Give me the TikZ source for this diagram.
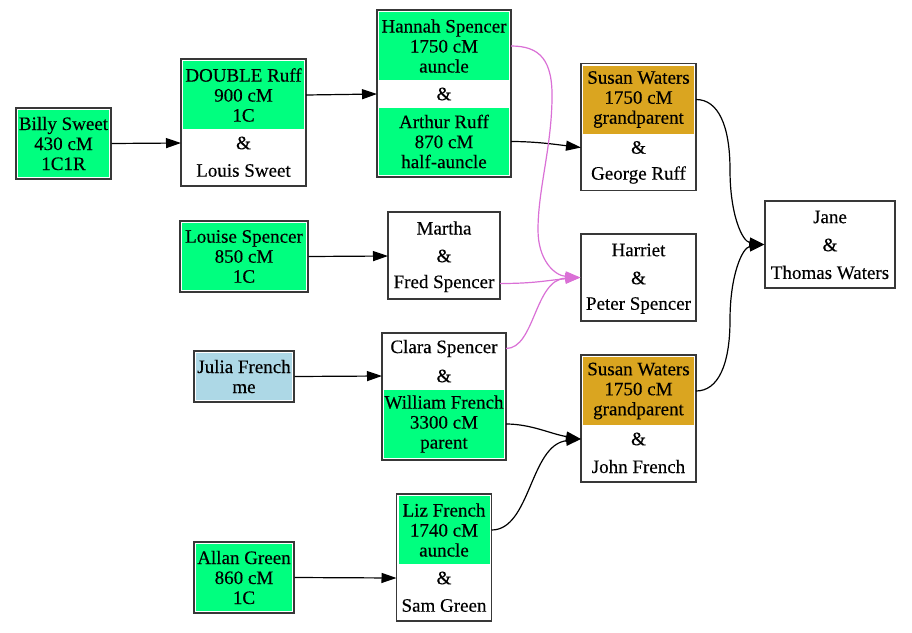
\documentclass[tikz,border=0pt]{standalone}
\usepackage{fontspec}
\setmainfont{Liberation Serif}[FakeBold=0.3]
\usetikzlibrary{arrows.meta}
\definecolor{springgreen}{HTML}{00FF7F}
\definecolor{gvgold}{HTML}{DAA520}
\definecolor{gvblue}{HTML}{ADD8E6}
\definecolor{gvorchid}{HTML}{DA70D6}
\newcommand{\gvfont}{\fontsize{19}{20}\selectfont}
\tikzset{
  tbl/.style={draw=black!78, line width=1.3pt, fill=white, inner sep=0pt},
  cell/.style={inner sep=0pt, outer xsep=2pt, outer ysep=0pt, align=center, font=\gvfont},
  gedge/.style={line width=1.2pt, draw=black, -{Triangle[length=15pt,width=10pt]}},
  pedge/.style={gedge, draw=gvorchid},
}
\begin{document}
\begin{tikzpicture}[x=1pt,y=-1pt]
\useasboundingbox (0,0) rectangle (912,632);
\fill[white] (0,0) rectangle (912,632);

% Billy Sweet
\node[tbl, minimum width=95, minimum height=71] (billy) at (63.5,143.5) {};
\node[cell, fill=springgreen, minimum width=91, minimum height=67] (billyC) at (63.5,143.5) {Billy Sweet\\430 cM\\1C1R};

% DOUBLE Ruff & Louis Sweet
\node[tbl, minimum width=125, minimum height=127] (dbl) at (243.5,122.5) {};
\node[cell, fill=springgreen, minimum width=121, minimum height=68] (dblTop) at (243.5,95) {DOUBLE Ruff\\900 cM\\1C};
\node[cell, minimum width=121, minimum height=28] (dblAmp) at (243.5,143) {\&};
\node[cell, minimum width=121, minimum height=27] (dblBot) at (243.5,170.5) {Louis Sweet};

% Hannah Spencer & Arthur Ruff
\node[tbl, minimum width=134, minimum height=167] (hannah) at (444,93.5) {};
\node[cell, fill=springgreen, minimum width=130, minimum height=68] (hTop) at (444,46) {Hannah Spencer\\1750 cM\\auncle};
\node[cell, minimum width=130, minimum height=28] (hAmp) at (444,94) {\&};
\node[cell, fill=springgreen, minimum width=130, minimum height=67] (hBot) at (444,141.5) {Arthur Ruff\\870 cM\\half-auncle};

% Susan Waters & George Ruff
\node[tbl, minimum width=115, minimum height=127] (susan) at (638.5,127) {};
\node[cell, fill=gvgold, minimum width=111, minimum height=68] (sTop) at (638.5,99.5) {Susan Waters\\1750 cM\\grandparent};
\node[cell, minimum width=111, minimum height=28] (sAmp) at (638.5,147.5) {\&};
\node[cell, minimum width=111, minimum height=27] (sBot) at (638.5,175) {George Ruff};

% Jane & Thomas Waters
\node[tbl, minimum width=130, minimum height=87] (jane) at (830,244.5) {};
\node[cell, minimum width=126, minimum height=28] (jTop) at (830,217) {Jane};
\node[cell, minimum width=126, minimum height=28] (jAmp) at (830,245) {\&};
\node[cell, minimum width=126, minimum height=27] (jBot) at (830,272.5) {Thomas Waters};

% Louise Spencer
\node[tbl, minimum width=128, minimum height=71] (louise) at (244,256.5) {};
\node[cell, fill=springgreen, minimum width=124, minimum height=67] (louiseC) at (244,256.5) {Louise Spencer\\850 cM\\1C};

% Martha & Fred Spencer
\node[tbl, minimum width=112, minimum height=87] (martha) at (444,255.5) {};
\node[cell, minimum width=108, minimum height=28] (mTop) at (444,228) {Martha};
\node[cell, minimum width=108, minimum height=28] (mAmp) at (444,256) {\&};
\node[cell, minimum width=108, minimum height=27] (mBot) at (444,283.5) {Fred Spencer};

% Harriet & Peter Spencer
\node[tbl, minimum width=115, minimum height=87] (harriet) at (638.5,277.5) {};
\node[cell, minimum width=111, minimum height=28] (haTop) at (638.5,250) {Harriet};
\node[cell, minimum width=111, minimum height=28] (haAmp) at (638.5,278) {\&};
\node[cell, minimum width=111, minimum height=27] (haBot) at (638.5,305.5) {Peter Spencer};

% Julia French
\node[tbl, minimum width=100, minimum height=51] (julia) at (244,376.5) {};
\node[cell, fill=gvblue, minimum width=96, minimum height=47] (juliaC) at (244,376.5) {Julia French\\me};

% Clara Spencer & William French
\node[tbl, minimum width=124, minimum height=127] (clara) at (444,396.5) {};
\node[cell, minimum width=120, minimum height=27] (cTop) at (444,348.5) {Clara Spencer};
\node[cell, minimum width=120, minimum height=28] (cAmp) at (444,376) {\&};
\node[cell, fill=springgreen, minimum width=120, minimum height=68] (cBot) at (444,424) {William French\\3300 cM\\parent};

% Susan Waters & John French
\node[tbl, minimum width=115, minimum height=127] (susan2) at (638.5,418.5) {};
\node[cell, fill=gvgold, minimum width=111, minimum height=68] (s2Top) at (638.5,391) {Susan Waters\\1750 cM\\grandparent};
\node[cell, minimum width=111, minimum height=28] (s2Amp) at (638.5,439) {\&};
\node[cell, minimum width=111, minimum height=27] (s2Bot) at (638.5,466.5) {John French};

% Liz French & Sam Green
\node[tbl, minimum width=95, minimum height=127] (liz) at (444,557.5) {};
\node[cell, fill=springgreen, minimum width=91, minimum height=68] (lTop) at (444,530) {Liz French\\1740 cM\\auncle};
\node[cell, minimum width=91, minimum height=28] (lAmp) at (444,578) {\&};
\node[cell, minimum width=91, minimum height=27] (lBot) at (444,605.5) {Sam Green};

% Allan Green
\node[tbl, minimum width=100, minimum height=71] (allan) at (244,577.5) {};
\node[cell, fill=springgreen, minimum width=96, minimum height=67] (allanC) at (244,577.5) {Allan Green\\860 cM\\1C};

% Edges
\draw[gedge] (billy.east) -- (dblAmp.west);
\draw[gedge] (dblTop.east) -- (hAmp.west);
\draw[gedge] (hBot.east) .. controls +(25,0) and +(-25,-3) .. (sAmp.west);
\draw[gedge] (louise.east) -- (mAmp.west);
\draw[gedge] (julia.east) -- (cAmp.west);
\draw[gedge] (allan.east) -- (lAmp.west);
\draw[gedge] (cBot.east) .. controls +(25,0) and +(-30,-5) .. (s2Amp.west);
\draw[gedge] (lTop.east) .. controls +(39,0) and +(-51,6) .. (s2Amp.west);
\draw[gedge] (sTop.east) .. controls +(22,0) and +(0,-45) .. ++(34,70.5)
  .. controls +(0,45) and +(-22,-3) .. (jane.west);
\draw[gedge] (s2Top.east) .. controls +(22,0) and +(0,45) .. ++(34,-71)
  .. controls +(0,-45) and +(-22,3) .. (jane.west);

\draw[pedge] (hTop.east) .. controls +(29,0) and +(1,-40) .. ++(41,54)
  .. controls +(-1,50) and +(0,-40) .. ++(-14,130)
  .. controls +(0,30) and +(-26,-2) .. (harriet.west);
\draw[pedge] (mBot.east) .. controls +(35,0) and +(-35,3) .. (harriet.west);
\draw[pedge] (cTop.east) .. controls +(29,0) and +(-46,2) .. (harriet.west);
\end{tikzpicture}
\end{document}
